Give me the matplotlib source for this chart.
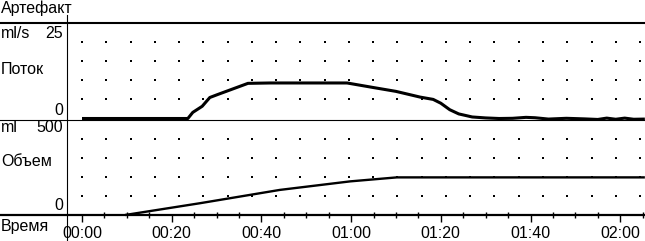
import numpy as np
import matplotlib
matplotlib.use('Agg')
import matplotlib.pyplot as plt
from matplotlib.lines import Line2D

plt.rcParams['font.family'] = ['Liberation Sans Narrow', 'Liberation Sans', 'DejaVu Sans']

# flow curve, seconds -> ml/s
flow_t = [0, 23.6, 24.7, 26.8, 28.5, 30.3, 37.0, 42, 50, 59.1, 65, 70, 75.4, 78.3,
          80, 82, 84, 87, 90, 93, 96, 99, 101, 104, 108, 112, 115, 117, 119, 121, 123, 125.5]
flow_v = [0, 0, 1.6, 3.2, 5.5, 6.3, 9.2, 9.3, 9.3, 9.3, 8.1, 7.1, 5.6, 5.0,
          4.0, 2.3, 1.2, 0.4, 0.15, 0.0, 0.05, 0.3, 0.2, -0.15, 0.05, -0.1, -0.25, 0.1, -0.2, 0.1, -0.2, -0.15]

# volume curve, seconds -> ml
vol_t = [9.6, 26.3, 44.1, 59.8, 70.2, 125.5]
vol_v = [0, 62, 132, 177, 198, 198]

tick_sec = [0, 20, 40, 60, 80, 100, 120]
tick_lbl = ['00:00', '00:20', '00:40', '01:00', '01:20', '01:40', '02:00']

W, H = 645, 241
fig = plt.figure(figsize=(W / 100, H / 100), dpi=100)

def fy(py):
    return 1 - py / H

left = 67 / W
t0, t1 = -15 / 4.485, (W - 82) / 4.485

ax_f = fig.add_axes([left, fy(118.5), 1 - left, fy(23) - fy(118.5)])
ax_v = fig.add_axes([left, fy(215), 1 - left, fy(120) - fy(215)])

dot_t = np.arange(24) * 5.41
for ax, rows, top in [(ax_f, [5, 10, 15, 20], 25), (ax_v, [100, 200, 300, 400], 500)]:
    ax.set_xlim(t0, t1)
    ax.set_ylim(0, top)
    for s in ax.spines.values():
        s.set_visible(False)
    ax.set_yticks([])
    gx, gy = np.meshgrid(dot_t, rows)
    ax.plot(gx.ravel(), gy.ravel(), ls='none', marker='s', ms=1.5, mew=0, color='black')

ax_f.set_xticks([])
ax_f.plot(flow_t, flow_v, color='black', lw=2.2, solid_capstyle='butt', clip_on=False)
ax_v.plot(vol_t, vol_v, color='black', lw=1.7, solid_capstyle='butt', clip_on=False)

ax_v.set_xticks(tick_sec, tick_lbl, fontsize=11.5)
ax_v.set_xticks(np.arange(0, 126, 5), minor=True)
ax_v.tick_params(axis='x', which='major', direction='out', length=5, width=1, pad=3)
ax_v.tick_params(axis='x', which='minor', direction='inout', length=4, width=1)

# frame lines
fig.add_artist(Line2D([0, 1], [fy(23), fy(23)], color='black', lw=1.5))
fig.add_artist(Line2D([0, 1], [fy(119.5), fy(119.5)], color='black', lw=0.8))
fig.add_artist(Line2D([0, 1], [fy(215), fy(215)], color='black', lw=1.6))
fig.add_artist(Line2D([left, left], [fy(15), 0], color='black', lw=0.8))

def label(x, py, s, ha='left'):
    fig.text(x / W, fy(py), s, ha=ha, va='center', fontsize=11.5)

label(1, 8, 'Артефакт')
label(1, 33, 'ml/s')
label(63, 33, '25', 'right')
label(1, 69, 'Поток')
label(63, 111, '0', 'right')
label(1, 128, 'ml')
label(63, 128, '500', 'right')
label(1, 162, 'Объем')
label(63, 206, '0', 'right')
label(1, 227, 'Время')

fig.savefig('out.png', dpi=100)
